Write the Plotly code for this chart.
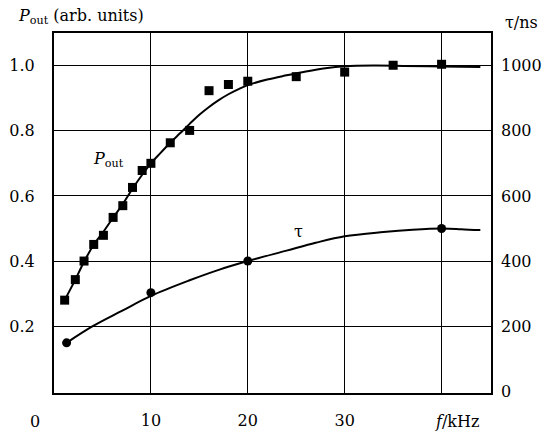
import plotly.graph_objects as go

# measured output power (arb. units) vs frequency (kHz)
freq_P = [1.1, 2.2, 3.1, 4.1, 5.1, 6.1, 7.1, 8.1, 9.1, 10, 12, 14, 16, 18, 20, 25, 30, 35, 40]
P_meas = [0.280, 0.343, 0.400, 0.451, 0.479, 0.534, 0.570, 0.626, 0.678, 0.700,
          0.763, 0.801, 0.923, 0.942, 0.952, 0.966, 0.980, 1.001, 1.004]

# fitted curve for P_out
freq_Pfit = [1.1, 2.2, 3.1, 4.1, 5.1, 6.1, 7.1, 8.1, 9.1, 10, 11, 12, 13, 14, 15, 16, 17, 18,
             19, 20, 22, 24, 26, 28, 30, 33, 36, 40, 44]
P_fit = [0.280, 0.343, 0.398, 0.450, 0.490, 0.533, 0.575, 0.622, 0.665, 0.700, 0.732,
         0.763, 0.792, 0.821, 0.849, 0.873, 0.894, 0.912, 0.927, 0.940, 0.957, 0.970,
         0.982, 0.992, 0.998, 1.000, 0.999, 0.997, 0.996]

# measured pulse duration tau (ns)
freq_tau = [1.3, 10, 20, 40]
tau_meas = [149, 303, 400, 500]

# fitted curve for tau
freq_taufit = [1.3, 4, 7, 10, 14, 17, 20, 24, 27, 30, 34, 37, 40, 42, 44]
tau_fit = [149, 200, 247, 293, 341, 373, 400, 432, 456, 476, 489, 496, 500, 498, 495]

x_ticks = [10, 20, 30, 40]
x_ticktext = ["10", "20", "30", ""]
y_ticks = [0.2, 0.4, 0.6, 0.8, 1.0]
y_ticktext = ["0.2", "0.4", "0.6", "0.8", "1.0"]
tau_ticks = [0, 200, 400, 600, 800, 1000]

FONT = "DejaVu Serif"
FS = 16

fig = go.Figure()
fig.add_trace(go.Scatter(x=freq_Pfit, y=P_fit, mode="lines", line=dict(color="black", width=2, shape="spline"),
                         showlegend=False, hoverinfo="skip"))
fig.add_trace(go.Scatter(x=freq_P, y=P_meas, mode="markers",
                         marker=dict(symbol="square", size=9, color="black"), showlegend=False))
fig.add_trace(go.Scatter(x=freq_taufit, y=tau_fit, mode="lines", yaxis="y2",
                         line=dict(color="black", width=2, shape="spline"), showlegend=False, hoverinfo="skip"))
fig.add_trace(go.Scatter(x=freq_tau, y=tau_meas, mode="markers", yaxis="y2",
                         marker=dict(symbol="circle", size=9, color="black"), showlegend=False))

W, H = 554, 432
l, r, t, b = 54, 63, 33, 39
pw, ph = W - l - r, H - t - b


def px2paper(px, py):
    return (px - l) / pw, (H - b - py) / ph


pixel_texts = [
    ("0", 35, 421, "center"),
    ("<i>f</i>/kHz", 457, 421, "center"),
    ("<i>P</i><sub>out</sub> (arb. units)", 16, 17, "left"),
    ("τ/ns", 503, 22, "left"),
]
annotations = []
for txt, px, py, anchor in pixel_texts:
    ax, ay = px2paper(px, py)
    annotations.append(dict(text=txt, x=ax, y=ay, xref="paper", yref="paper", showarrow=False,
                            xanchor=anchor, yanchor="middle", font=dict(family=FONT, size=FS)))
annotations.append(dict(text="<i>P</i><sub>out</sub>", x=5.6, y=0.713, xref="x", yref="y",
                        showarrow=False, font=dict(family=FONT, size=FS)))
annotations.append(dict(text="τ", x=25.2, y=0.492, xref="x", yref="y", showarrow=False,
                        font=dict(family=FONT, size=FS)))

fig.update_layout(
    width=W, height=H,
    margin=dict(l=l, r=r, t=t, b=b, autoexpand=False),
    paper_bgcolor="white", plot_bgcolor="white",
    font=dict(family=FONT, size=FS, color="black"),
    xaxis=dict(range=[0, 45.1], tickvals=x_ticks, ticktext=x_ticktext, showgrid=True,
               gridcolor="black", gridwidth=1.3, showline=True, linecolor="black", linewidth=2,
               mirror=True, ticks="", zeroline=False, ticklabelstandoff=12, automargin=False),
    yaxis=dict(range=[-0.005, 1.1], tickvals=y_ticks, ticktext=y_ticktext, showgrid=True,
               gridcolor="black", gridwidth=1.3, showline=True, linecolor="black", linewidth=2,
               mirror=True, ticks="", zeroline=False, ticklabelstandoff=14, automargin=False),
    yaxis2=dict(range=[-5, 1100], tickvals=tau_ticks, overlaying="y", side="right", showgrid=False,
                showline=False, ticks="", zeroline=False, ticklabelstandoff=9, automargin=False),
    annotations=annotations,
)

fig.write_html("out.html", config={"displayModeBar": False},
               post_script="document.body.style.margin='0';document.body.style.padding='0';")
